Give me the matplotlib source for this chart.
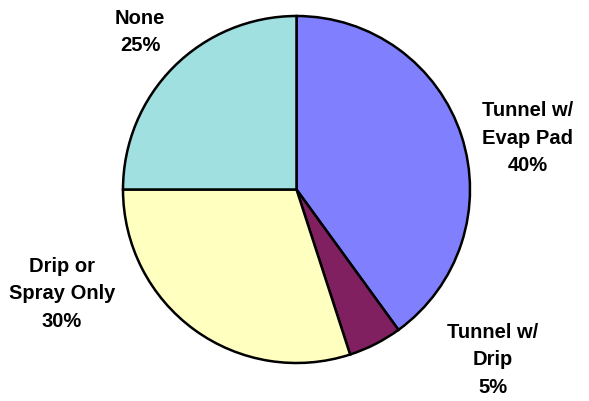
import matplotlib.pyplot as plt

# cooling method shares (percent)
labels = ['Tunnel w/\nEvap Pad', 'Tunnel w/\nDrip', 'Drip or\nSpray Only', 'None']
shares = [40, 5, 30, 25]
colors = ['#8080FF', '#802060', '#FFFFC0', '#A0E0E0']

# label anchor positions in pixel space (x, y from top)
label_pos = [(528, 138), (493, 360), (62, 294), (140, 32)]

W, H = 589, 402
fig = plt.figure(figsize=(W / 100, H / 100), dpi=100)
ax = fig.add_axes([0, 0, 1, 1])

cx, cy, r = 296.5, H - 190.5, 173.5
ax.pie(shares, colors=colors, startangle=90, counterclock=False,
       center=(cx, cy), radius=r, frame=True,
       wedgeprops=dict(edgecolor='black', linewidth=1.8))
ax.set_xlim(0, W)
ax.set_ylim(0, H)
ax.set_aspect('equal')
ax.axis('off')

for lab, val, (x, y) in zip(labels, shares, label_pos):
    ax.text(x, H - y, f'{lab}\n{val}%', ha='center', va='center',
            fontsize=14.5, fontweight='bold', family='Liberation Sans',
            linespacing=1.55)

fig.savefig('out.png', dpi=100)
